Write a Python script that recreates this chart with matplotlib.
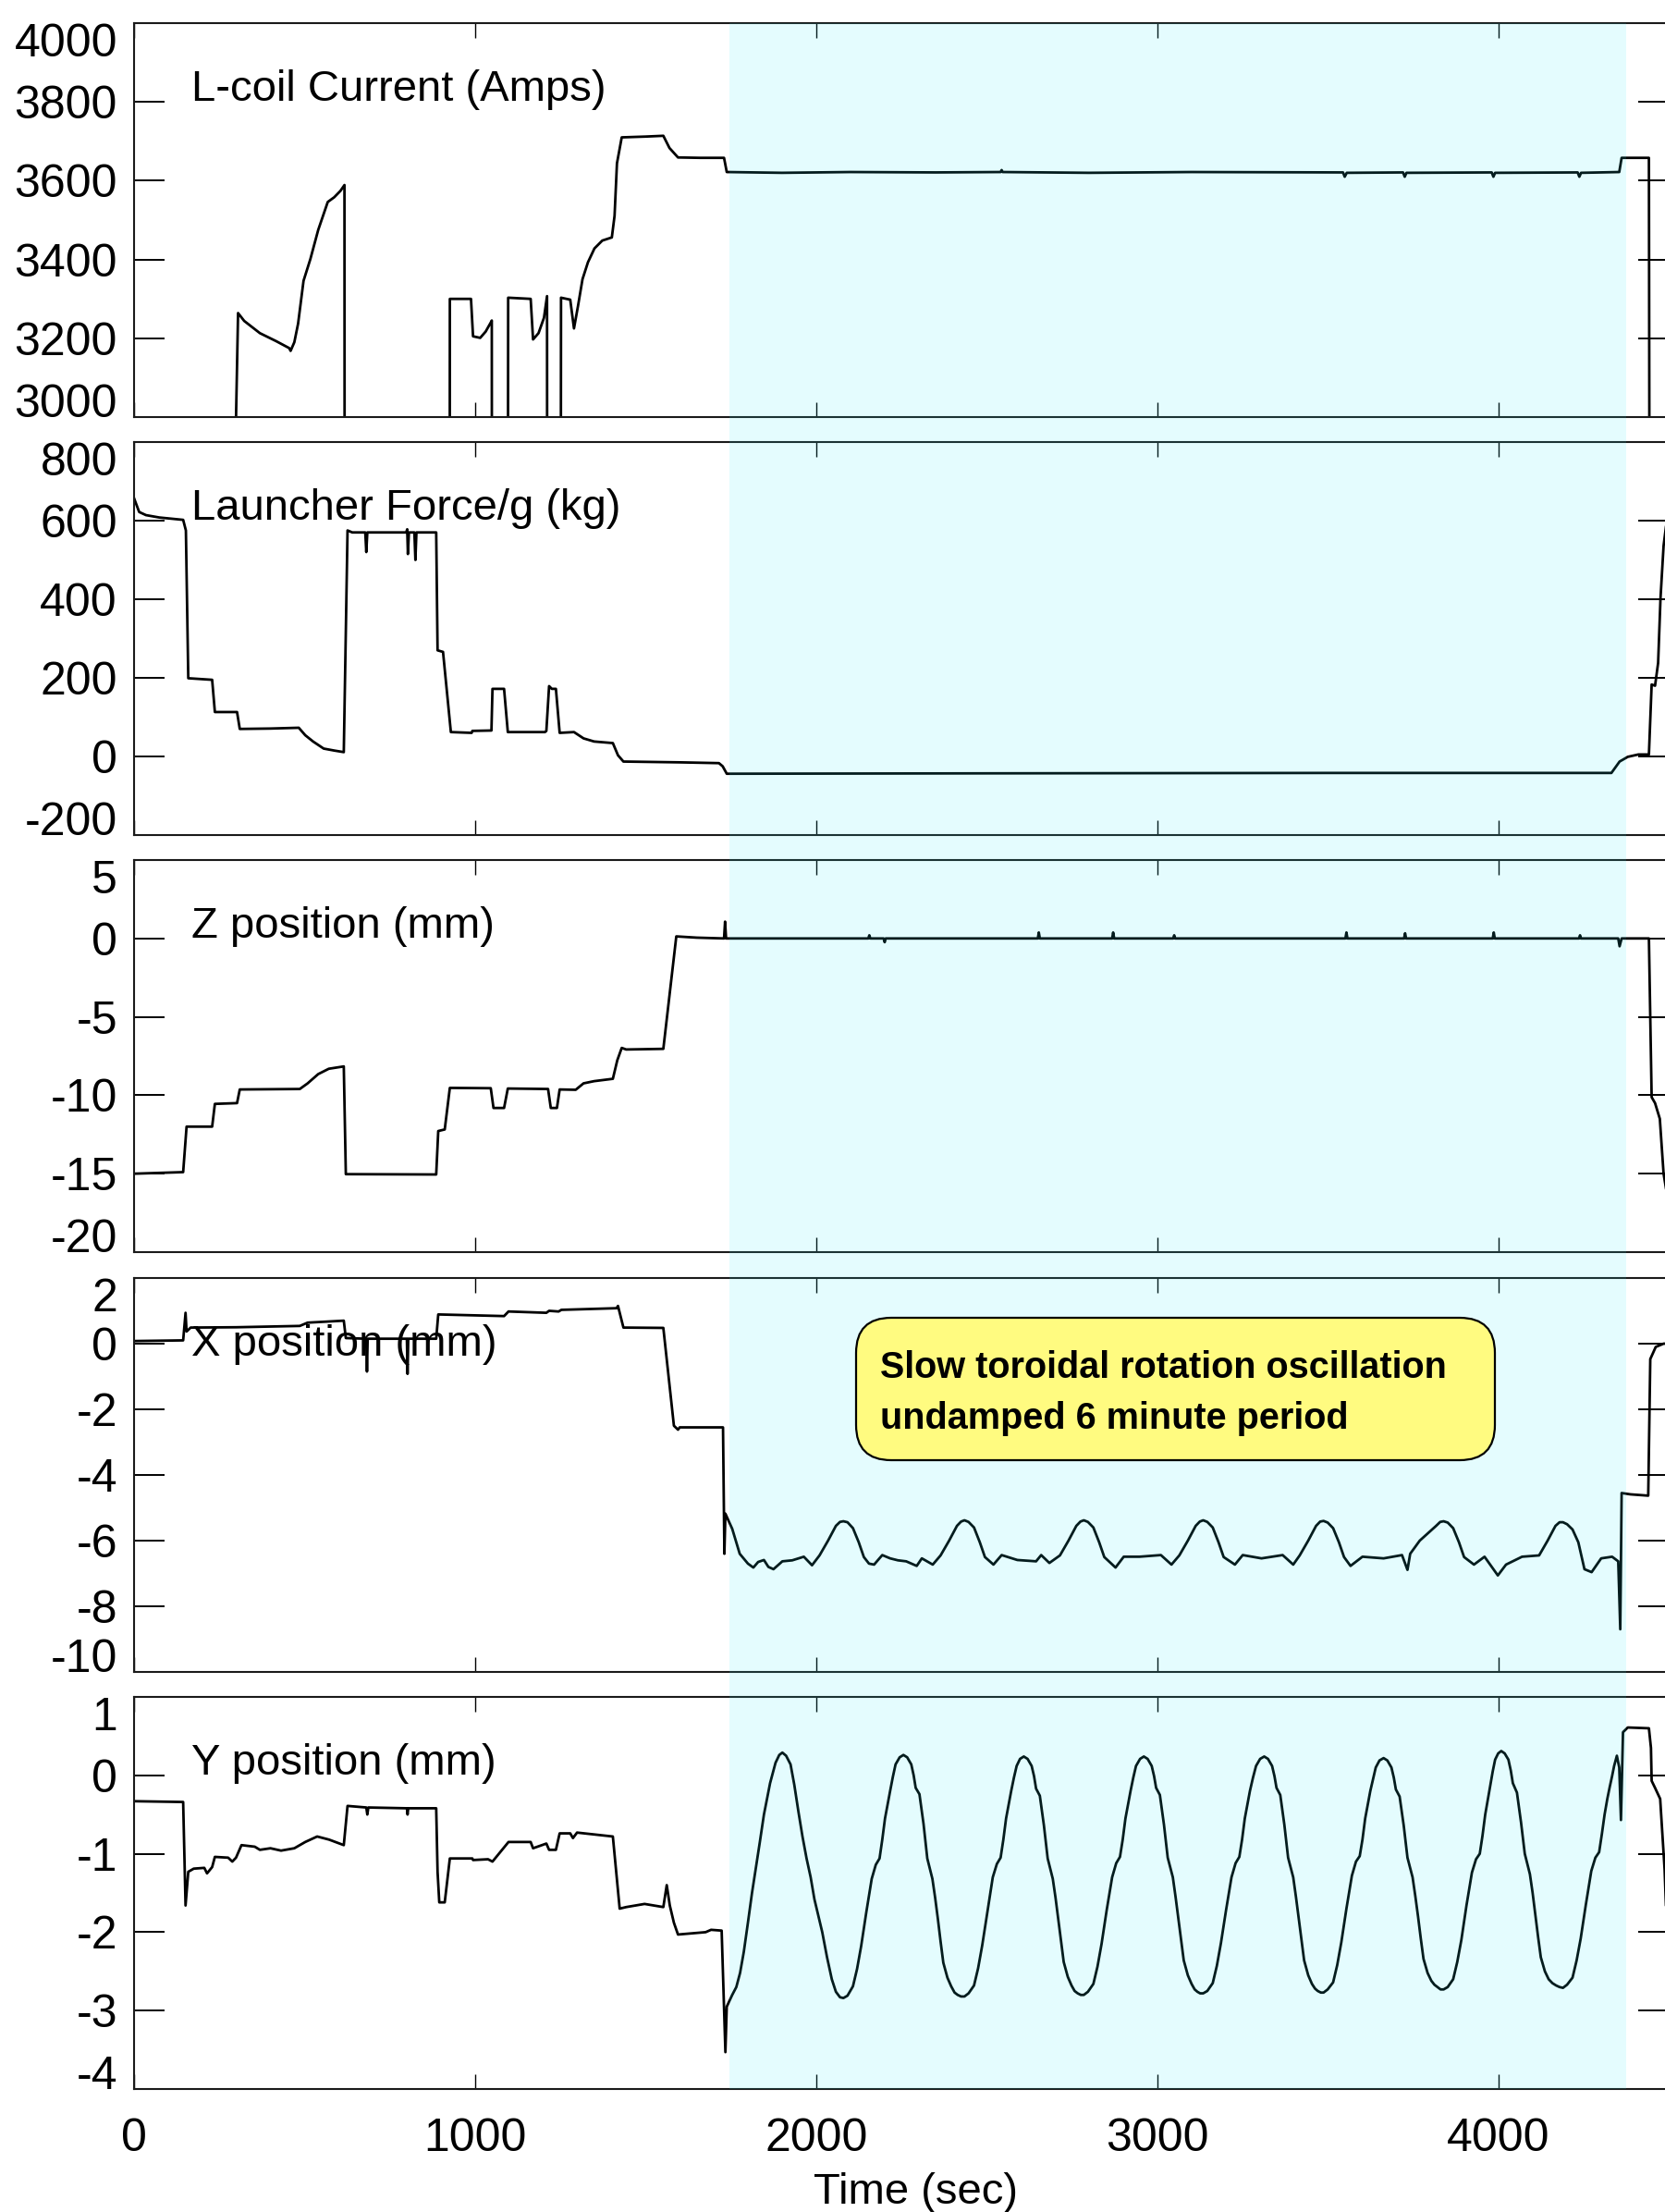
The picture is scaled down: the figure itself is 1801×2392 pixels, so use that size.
import matplotlib
matplotlib.use('Agg')
import matplotlib.pyplot as plt
from matplotlib.patches import Rectangle, FancyBboxPatch
from matplotlib.transforms import blended_transform_factory

# ---- data: (time in s, value) ----
lcoil = [(0, 0), (236, 0), (237, 2998), (299, 2998), (305, 3264), (323, 3244), (369, 3213),
         (416, 3193), (455, 3175), (459, 3168), (470, 3190), (481, 3237), (497, 3346),
         (517, 3401), (540, 3475), (568, 3546), (587, 3558), (605, 3574), (617, 3589), (619, 0),
         (924, 0), (926, 3300), (988, 3300), (994, 3205), (1015, 3201), (1031, 3217),
         (1046, 3240), (1049, 3245), (1051, 0),
         (1093, 0), (1097, 3303), (1163, 3300), (1170, 3197), (1186, 3213), (1202, 3252),
         (1211, 3307), (1213, 0),
         (1248, 0), (1252, 3303), (1279, 3298), (1290, 3225), (1302, 3283), (1315, 3350),
         (1331, 3393), (1350, 3428), (1373, 3448), (1401, 3456), (1409, 3511), (1416, 3644),
         (1430, 3710), (1500, 3712), (1552, 3714), (1570, 3683), (1595, 3659), (1660, 3658),
         (1730, 3658), (1738, 3622), (1900, 3620), (2100, 3622), (2350, 3621), (2541, 3622),
         (2544, 3627), (2547, 3622), (2800, 3620), (3100, 3622), (3545, 3621), (3550, 3610),
         (3556, 3620), (3721, 3621), (3726, 3610), (3731, 3620), (3981, 3621), (3986, 3610),
         (3991, 3620), (4233, 3621), (4238, 3610), (4243, 3620), (4355, 3622), (4362, 3658),
         (4442, 3658), (4449, 0), (4500, 0)]

force = [(0, 657), (15, 622), (35, 614), (74, 608), (144, 602), (152, 575), (159, 199),
         (229, 195), (237, 113), (302, 113), (310, 70), (400, 71), (483, 73), (502, 54),
         (525, 38), (556, 20), (587, 15), (615, 11), (626, 575), (640, 570), (678, 570),
         (681, 520), (684, 570), (798, 570), (801, 578), (803, 515), (806, 570), (822, 570),
         (825, 500), (828, 570), (886, 570), (890, 270), (906, 266), (929, 62), (990, 60),
         (992, 65), (1048, 66), (1051, 172), (1085, 172), (1096, 62), (1205, 62), (1209, 65),
         (1217, 179), (1225, 172), (1237, 172), (1248, 60), (1290, 62), (1318, 46), (1349, 38),
         (1404, 34), (1419, 3), (1435, -13), (1600, -15), (1715, -17), (1726, -25), (1738, -44),
         (2500, -43), (3500, -42), (4332, -42), (4356, -13), (4380, -1), (4411, 5), (4442, 5),
         (4450, 183), (4460, 180), (4469, 238), (4476, 403), (4485, 536), (4500, 640)]

zpos = [(0, -15), (144, -14.9), (154, -12.0), (229, -12.0), (237, -10.55), (302, -10.5),
        (310, -9.63), (486, -9.6), (509, -9.24), (540, -8.65), (571, -8.31), (615, -8.16),
        (621, -15.03), (886, -15.05), (892, -12.28), (911, -12.18), (926, -9.53), (1046, -9.55),
        (1054, -10.81), (1085, -10.81), (1096, -9.57), (1214, -9.6), (1222, -10.81),
        (1240, -10.81), (1248, -9.63), (1295, -9.65), (1318, -9.24), (1349, -9.1),
        (1404, -8.95), (1417, -7.77), (1430, -6.98), (1443, -7.08), (1552, -7.04),
        (1590, 0.13), (1650, 0.05), (1730, 0.0), (1733, 1.07), (1736, 0.0), (2153, 0.0),
        (2156, 0.2), (2159, 0.0), (2198, 0.0), (2201, -0.24), (2204, 0.0), (2650, 0.0),
        (2653, 0.38), (2656, 0.0), (2868, 0.0), (2871, 0.38), (2874, 0.0), (3047, 0.0),
        (3050, 0.2), (3053, 0.0), (3552, 0.0), (3555, 0.38), (3558, 0.0), (3724, 0.0),
        (3727, 0.33), (3730, 0.0), (3984, 0.0), (3987, 0.38), (3990, 0.0), (4237, 0.0),
        (4240, 0.2), (4243, 0.0), (4352, 0.0), (4356, -0.5), (4362, 0.0), (4442, 0.0),
        (4450, -10.12), (4460, -10.5), (4474, -11.5), (4485, -15), (4500, -17)]

xpos = [(0, 0.08), (144, 0.1), (151, 0.94), (154, 0.37), (166, 0.49), (300, 0.5), (486, 0.54),
        (509, 0.64), (615, 0.7), (621, 0.17), (681, 0.15), (683, -0.85), (685, 0.15),
        (800, 0.15), (802, -0.92), (804, 0.15), (886, 0.15), (892, 0.89), (1085, 0.84),
        (1098, 0.98), (1209, 0.94), (1217, 1.0), (1245, 0.98), (1253, 1.03), (1415, 1.08),
        (1419, 1.15), (1435, 0.49), (1552, 0.48), (1583, -2.5), (1595, -2.62), (1600, -2.55),
        (1727, -2.55), (1731, -6.4), (1734, -5.18), (1754, -5.64), (1776, -6.4), (1800, -6.7),
        (1816, -6.82), (1830, -6.65), (1847, -6.59), (1860, -6.8), (1875, -6.87), (1901, -6.63),
        (1930, -6.6), (1964, -6.49), (1988, -6.75), (2010, -6.45), (2035, -6.0), (2058, -5.55),
        (2070, -5.43), (2080, -5.41), (2092, -5.44), (2108, -5.62), (2125, -6.05), (2140, -6.5),
        (2155, -6.7), (2170, -6.73), (2194, -6.44), (2217, -6.54), (2240, -6.6), (2264, -6.63),
        (2295, -6.77), (2310, -6.54), (2342, -6.73), (2365, -6.45), (2390, -6.0), (2413, -5.55),
        (2425, -5.42), (2435, -5.38), (2447, -5.43), (2463, -5.6), (2480, -6.05), (2495, -6.5),
        (2520, -6.73), (2544, -6.44), (2590, -6.59), (2645, -6.63), (2660, -6.44), (2684, -6.68),
        (2715, -6.45), (2740, -6.0), (2763, -5.55), (2775, -5.42), (2785, -5.38), (2797, -5.43),
        (2813, -5.6), (2830, -6.05), (2845, -6.5), (2878, -6.82), (2902, -6.49), (2948, -6.49),
        (3011, -6.44), (3042, -6.73), (3065, -6.45), (3090, -6.0), (3113, -5.55), (3125, -5.42),
        (3135, -5.38), (3147, -5.43), (3163, -5.6), (3180, -6.05), (3195, -6.5), (3228, -6.73),
        (3251, -6.44), (3306, -6.54), (3368, -6.44), (3399, -6.73), (3418, -6.45), (3443, -6.0),
        (3466, -5.55), (3478, -5.42), (3488, -5.4), (3500, -5.45), (3516, -5.62), (3533, -6.05),
        (3548, -6.5), (3567, -6.77), (3602, -6.49), (3664, -6.54), (3718, -6.44), (3734, -6.89),
        (3742, -6.4), (3770, -6.0), (3818, -5.55), (3830, -5.43), (3840, -5.41), (3852, -5.45),
        (3868, -5.62), (3885, -6.05), (3900, -6.5), (3929, -6.73), (3960, -6.49), (3999, -7.06),
        (4023, -6.73), (4070, -6.49), (4120, -6.45), (4145, -6.0), (4168, -5.55), (4180, -5.44),
        (4190, -5.44), (4202, -5.5), (4218, -5.66), (4235, -6.05), (4245, -6.5), (4253, -6.87),
        (4274, -6.96), (4302, -6.54), (4334, -6.49), (4352, -6.63), (4358, -8.7), (4362, -4.55),
        (4388, -4.59), (4440, -4.63), (4446, -0.47), (4462, -0.1), (4485, 0.0), (4500, 0.0)]

ypos = [(0, -0.33), (144, -0.34), (151, -1.66), (159, -1.23), (175, -1.19), (206, -1.18),
        (214, -1.25), (229, -1.17), (237, -1.04), (276, -1.05), (288, -1.1), (299, -1.05),
        (315, -0.89), (354, -0.91), (369, -0.95), (400, -0.93), (431, -0.96), (470, -0.93),
        (502, -0.85), (537, -0.78), (572, -0.82), (615, -0.89), (626, -0.39), (681, -0.41),
        (684, -0.5), (687, -0.41), (800, -0.42), (802, -0.5), (804, -0.42), (886, -0.42),
        (890, -1.23), (895, -1.62), (911, -1.62), (926, -1.06), (992, -1.06), (994, -1.08),
        (1038, -1.07), (1051, -1.1), (1098, -0.85), (1163, -0.85), (1170, -0.93), (1209, -0.87),
        (1217, -0.95), (1237, -0.95), (1248, -0.74), (1279, -0.74), (1287, -0.8), (1299, -0.73),
        (1404, -0.78), (1424, -1.7), (1443, -1.68), (1497, -1.64), (1552, -1.68), (1562, -1.4),
        (1571, -1.66), (1583, -1.88), (1595, -2.03), (1676, -2.0), (1692, -1.97), (1723, -1.98),
        (1734, -3.53), (1738, -2.95), (1754, -2.8), (1766, -2.7), (1777, -2.52), (1788, -2.25),
        (1800, -1.88), (1812, -1.5), (1823, -1.19), (1835, -0.85), (1847, -0.5), (1865, -0.1),
        (1881, 0.16), (1892, 0.26), (1901, 0.29), (1912, 0.25), (1925, 0.14), (1936, -0.12),
        (1948, -0.46), (1960, -0.78), (1972, -1.06), (1984, -1.3), (1995, -1.58), (2007, -1.8),
        (2018, -2.0), (2032, -2.32), (2046, -2.6), (2058, -2.76), (2070, -2.83), (2080, -2.84),
        (2092, -2.81),
        (2108, -2.69), (2120, -2.47), (2132, -2.18), (2147, -1.75), (2163, -1.32), (2175, -1.14),
        (2186, -1.06), (2194, -0.82), (2202, -0.55), (2210, -0.36), (2217, -0.2), (2225, -0.02),
        (2233, 0.14), (2245, 0.23), (2256, 0.26), (2267, 0.23), (2279, 0.14), (2286, 0.0),
        (2292, -0.16), (2303, -0.24), (2315, -0.62), (2326, -1.06), (2341, -1.32), (2349, -1.56),
        (2357, -1.83), (2365, -2.12), (2373, -2.39), (2385, -2.58), (2396, -2.69), (2406, -2.77),
        (2415, -2.8), (2425, -2.82), (2435, -2.82), (2447, -2.78),
        (2463, -2.68), (2475, -2.46), (2487, -2.17), (2502, -1.75), (2518, -1.3), (2530, -1.13),
        (2541, -1.05), (2549, -0.82), (2557, -0.55), (2565, -0.36), (2572, -0.2), (2580, -0.03),
        (2588, 0.12), (2598, 0.21), (2609, 0.24), (2620, 0.21), (2632, 0.12), (2639, -0.01),
        (2645, -0.17), (2656, -0.26), (2668, -0.64), (2679, -1.06), (2694, -1.32), (2702, -1.56),
        (2710, -1.83), (2718, -2.11), (2726, -2.38), (2738, -2.57), (2749, -2.68), (2758, -2.75),
        (2767, -2.78), (2776, -2.8), (2785, -2.8), (2797, -2.76),
        (2813, -2.66), (2825, -2.44), (2837, -2.15), (2852, -1.72), (2868, -1.3), (2880, -1.12),
        (2891, -1.04), (2899, -0.82), (2907, -0.55), (2915, -0.36), (2922, -0.2), (2930, -0.03),
        (2938, 0.12), (2950, 0.21), (2961, 0.24), (2972, 0.21), (2984, 0.12), (2991, -0.01),
        (2997, -0.16), (3008, -0.25), (3020, -0.63), (3031, -1.05), (3046, -1.3), (3054, -1.55),
        (3062, -1.82), (3070, -2.1), (3078, -2.36), (3090, -2.55), (3101, -2.66), (3110, -2.73),
        (3118, -2.76), (3126, -2.78), (3135, -2.78), (3147, -2.75),
        (3163, -2.65), (3175, -2.43), (3187, -2.14), (3202, -1.72), (3218, -1.3), (3230, -1.12),
        (3241, -1.04), (3249, -0.82), (3257, -0.55), (3265, -0.36), (3272, -0.2), (3281, -0.03),
        (3290, 0.12), (3302, 0.21), (3314, 0.24), (3325, 0.21), (3337, 0.12), (3344, -0.01),
        (3350, -0.16), (3361, -0.25), (3373, -0.63), (3384, -1.05), (3399, -1.3), (3407, -1.55),
        (3415, -1.82), (3423, -2.1), (3431, -2.36), (3443, -2.55), (3454, -2.66), (3463, -2.72),
        (3471, -2.75), (3480, -2.77), (3488, -2.77), (3500, -2.73),
        (3516, -2.64), (3528, -2.42), (3540, -2.13), (3555, -1.7), (3571, -1.28), (3583, -1.1),
        (3594, -1.03), (3602, -0.82), (3610, -0.55), (3618, -0.36), (3625, -0.2), (3633, -0.05),
        (3641, 0.1), (3652, 0.19), (3664, 0.22), (3675, 0.19), (3687, 0.1), (3694, -0.03),
        (3700, -0.18), (3711, -0.27), (3723, -0.64), (3734, -1.05), (3749, -1.3), (3757, -1.54),
        (3765, -1.8), (3773, -2.08), (3781, -2.34), (3793, -2.52), (3804, -2.62), (3813, -2.67),
        (3822, -2.7), (3831, -2.73), (3840, -2.73), (3852, -2.7),
        (3868, -2.6), (3880, -2.38), (3892, -2.1), (3907, -1.66), (3923, -1.24), (3935, -1.07),
        (3946, -1.0), (3954, -0.77), (3962, -0.5), (3970, -0.3), (3977, -0.12), (3984, 0.05),
        (3991, 0.2), (4000, 0.28), (4009, 0.31), (4019, 0.28), (4030, 0.2), (4037, 0.06),
        (4043, -0.1), (4055, -0.22), (4067, -0.6), (4078, -1.0), (4093, -1.26), (4101, -1.5),
        (4109, -1.78), (4117, -2.06), (4125, -2.32), (4137, -2.5), (4148, -2.6), (4159, -2.65),
        (4170, -2.68), (4180, -2.7), (4190, -2.71), (4202, -2.67),
        (4218, -2.58), (4230, -2.36), (4242, -2.08), (4257, -1.65), (4273, -1.22), (4285, -1.05),
        (4296, -0.98), (4304, -0.75), (4312, -0.5), (4320, -0.3), (4327, -0.15), (4334, -0.01),
        (4340, 0.12), (4348, 0.25), (4355, 0.1), (4360, -0.57), (4366, 0.55), (4380, 0.61),
        (4442, 0.6), (4448, 0.35), (4450, -0.07), (4460, -0.16), (4475, -0.3), (4488, -1.2),
        (4500, -2.6)]

series = [lcoil, force, zpos, xpos, ypos]
labels = ['L-coil Current (Amps)', 'Launcher Force/g (kg)', 'Z position (mm)',
          'X position (mm)', 'Y position (mm)']
ylims = [(3000, 4000), (-200, 800), (-20, 5), (-10, 2), (-4, 1)]
yticks = [list(range(3000, 4001, 200)), list(range(-200, 801, 200)), list(range(-20, 6, 5)),
          list(range(-10, 3, 2)), list(range(-4, 2, 1))]
xticks = [0, 1000, 2000, 3000, 4000]
shade_span = (1745, 4375)
note = ['Slow toroidal rotation oscillation', 'undamped 6 minute period']

# ---- layout (pixels of the 1801x2392 picture) ----
W, H = 1801, 2392
plt.rcParams['font.family'] = ['Liberation Sans', 'DejaVu Sans']
plt.rcParams['axes.unicode_minus'] = False

fig = plt.figure(figsize=(W / 100, H / 100), dpi=100)
panels = [(25, 451), (478, 903), (930, 1354), (1382, 1808), (1835, 2259)]
x0, x1 = 145, 1805
axes = []

for i, ((top, bot), data) in enumerate(zip(panels, series)):
    ax = fig.add_axes([x0 / W, 1 - bot / H, (x1 - x0) / W, (bot - top) / H])
    ax.set_facecolor('none')
    t = [p[0] for p in data]
    v = [p[1] for p in data]
    ax.plot(t, v, color='black', lw=2.0, solid_joinstyle='round')
    ax.set_xlim(0, 4500)
    ax.set_ylim(*ylims[i])
    ax.set_xticks(xticks)
    ax.set_yticks(yticks[i])
    ax.tick_params(axis='x', direction='in', length=11.5, width=1.0, top=True, bottom=True,
                   labelbottom=(i == 4), labelsize=36, pad=22)
    ax.tick_params(axis='y', direction='in', length=24, width=1.4, left=True, right=True,
                   labelsize=36, pad=13)
    for s in ax.spines.values():
        s.set_linewidth(1.5)
        s.set_color('#1a1a1a')
    tl = ax.get_yticklabels()
    tl[-1].set_va('top')
    tl[0].set_va('baseline')
    ax.text((207 - x0) / (x1 - x0), 1 - 84 / (bot - top), labels[i], transform=ax.transAxes,
            fontsize=34, va='baseline', ha='left')
    axes.append(ax)

# translucent cyan band over all panels
tr = blended_transform_factory(axes[0].transData, fig.transFigure)
fig.add_artist(Rectangle((shade_span[0], 1 - panels[-1][1] / H), shade_span[1] - shade_span[0],
                         (panels[-1][1] - panels[0][0]) / H, transform=tr,
                         facecolor=(0.15, 0.93, 0.97), alpha=0.12, lw=0, zorder=5))

# callout box
bx0, bx1, by0, by1 = 926, 1617, 1425, 1579
box = FancyBboxPatch((bx0 / W, 1 - by1 / H), (bx1 - bx0) / W, (by1 - by0) / H,
                     boxstyle='round,pad=0,rounding_size=%f' % (38 / W),
                     mutation_aspect=W / H, transform=fig.transFigure,
                     facecolor='#FFFB80', edgecolor='black', lw=1.6, zorder=6)
fig.add_artist(box)
fig.text(952 / W, 1 - 1490 / H, note[0], fontsize=28.5, fontweight='bold',
         va='baseline', zorder=7)
fig.text(952 / W, 1 - 1545 / H, note[1], fontsize=28.5, fontweight='bold',
         va='baseline', zorder=7)

fig.text(991 / W, 1 - 2383 / H, 'Time (sec)', fontsize=34, ha='center', va='baseline')

fig.savefig('out.png', dpi=100)
